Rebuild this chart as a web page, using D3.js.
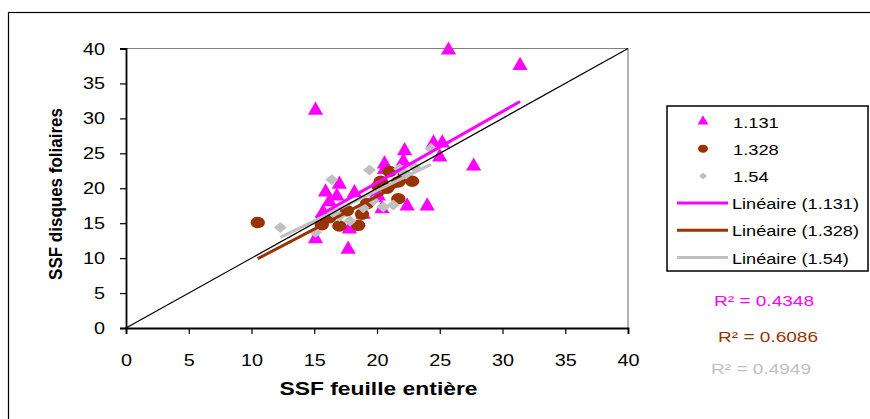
<!DOCTYPE html>
<html><head><meta charset="utf-8">
<script src="https://cdn.jsdelivr.net/npm/d3@7"></script>
<style>body{margin:0;background:#fff}svg{display:block;font-family:"Liberation Sans",Arial,sans-serif}</style>
</head><body><svg id="c" width="870" height="419"></svg>
<script>
// ---- data ----
const seriesNames = ["1.131", "1.328", "1.54"];
const seriesColors = ["#FF00FF", "#993300", "#C0C0C0"];
const s1131 = [[25.7,39.9],[31.4,37.7],[15.1,31.3],[24.5,26.6],[25.2,26.6],[22.2,25.5],[25.0,24.6],[20.6,23.6],[22.1,24.0],[27.7,23.3],[20.6,22.8],[17.0,20.7],[15.9,19.6],[16.8,19.0],[18.2,19.5],[16.2,18.2],[22.4,17.6],[24.0,17.6],[15.7,16.7],[20.4,17.2],[19.8,18.8],[18.9,16.4],[17.8,14.3],[15.1,12.9],[17.7,11.4],[20.1,19.0]];
const s1328 = [[10.5,15.1],[15.6,14.8],[17.0,14.6],[18.5,14.7],[18.8,16.3],[17.6,16.8],[21.0,22.4],[21.7,20.9],[22.8,21.0],[20.8,20.0],[20.1,20.3],[21.7,18.5],[16.2,15.8],[19.2,17.8],[22.2,21.8],[20.3,21.0]];
const s154 = [[12.3,14.4],[15.1,13.7],[16.4,21.2],[19.4,22.6],[24.3,25.7],[21.8,22.8],[20.5,17.3],[21.3,17.6],[17.85,15.3],[18.9,17.2],[19.7,18.2],[16.5,16.5],[22.3,22.0],[23.0,23.0],[17.0,16.0]];
const trendSlopes = [1.02, 0.94, 0.87];
const trendIntercepts = [0.39, 0.05, 2.27];
const r2Labels = ["R² = 0.4348", "R² = 0.6086", "R² = 0.4949"];
const xTicks = [0,5,10,15,20,25,30,35,40];
const yTicks = [0,5,10,15,20,25,30,35,40];
const diagonal = [[0,0],[40,40]];
const xTitle = "SSF feuille entière";
const yTitle = "SSF disques foliaires";

const SX = 1.24; // horizontal glyph stretch seen in the reference
const allSeries = [s1131, s1328, s154];
const svg = d3.select("#c");
function stext(parent, x, y, txt, size, sx, anchor){
  return parent.append("text").attr("transform",`translate(${x},${y}) scale(${sx},1)`)
    .attr("text-anchor",anchor||"start").attr("font-size",size).text(txt);
}
// outer frame
svg.append("rect").attr("x",8.5).attr("y",12.5).attr("width",900).attr("height",500)
  .attr("fill","none").attr("stroke","#000").attr("stroke-width",1.2);

const x = d3.scaleLinear().domain([0,40]).range([126,628]);
const y = d3.scaleLinear().domain([0,40]).range([328,48.5]);

// plot border (top/right gray)
svg.append("path").attr("d",`M${x(0)},${y(40)}H${x(40)}V${y(0)}`).attr("fill","none").attr("stroke","#808080").attr("stroke-width",1.2);

const xa = svg.append("g").attr("transform",`translate(0,${y(0)})`)
  .call(d3.axisBottom(x).tickValues(xTicks).tickSize(6).tickFormat(d3.format("d")));
const ya = svg.append("g").attr("transform",`translate(${x(0)},0)`)
  .call(d3.axisLeft(y).tickValues(yTicks).tickSize(6).tickFormat(d3.format("d")));
[xa,ya].forEach(a=>{
  a.select(".domain").attr("stroke","#000").attr("stroke-width",1.8);
  a.selectAll(".tick line").attr("stroke","#000").attr("stroke-width",1.2);
  a.selectAll(".tick text").attr("font-size",16).attr("fill","#000").attr("font-family","Liberation Sans, Arial, sans-serif");
});
xa.selectAll(".tick text").attr("y",null).attr("dy",null).attr("transform",`translate(0,38) scale(${SX},1)`);
ya.selectAll(".tick text").attr("x",null).attr("dy",null).attr("transform",`translate(-21,5.5) scale(${SX},1)`);

// markers
const tri = d3.symbol().type(d3.symbolTriangle).size(100);
svg.append("g").selectAll("path").data(s1131).join("path")
  .attr("d",tri).attr("transform",d=>`translate(${x(d[0])},${y(d[1])+1})`).attr("fill",seriesColors[0]);
svg.append("g").selectAll("ellipse").data(s1328).join("ellipse")
  .attr("cx",d=>x(d[0])).attr("cy",d=>y(d[1])).attr("rx",7.2).attr("ry",5.8).attr("fill",seriesColors[1]);
svg.append("g").selectAll("path").data(s154).join("path")
  .attr("d","M0,-5.5L6.5,0L0,5.5L-6.5,0Z").attr("transform",d=>`translate(${x(d[0])},${y(d[1])})`).attr("fill",seriesColors[2]);

// trend lines
allSeries.forEach((s,i)=>{
  const [x0,x1] = d3.extent(s,d=>d[0]);
  const pts = [x0,x1].map(v=>[v, trendSlopes[i]*v+trendIntercepts[i]]);
  svg.append("path").attr("d",d3.line().x(d=>x(d[0])).y(d=>y(d[1]))(pts))
    .attr("stroke",seriesColors[i]).attr("stroke-width",3).attr("fill","none");
});
// diagonal
svg.append("path").attr("d",d3.line().x(d=>x(d[0])).y(d=>y(d[1]))(diagonal))
  .attr("stroke","#000").attr("stroke-width",1.3).attr("fill","none");

// axis titles
stext(svg, 378.5, 395, xTitle, 18, 1.27, "middle").attr("font-weight","bold");
svg.append("text").attr("transform","translate(62,194) rotate(-90) scale(1,1.1)").attr("text-anchor","middle")
  .attr("font-size",17).attr("font-weight","bold").text(yTitle);

// legend
const lg = svg.append("g");
lg.append("rect").attr("x",667).attr("y",106).attr("width",201).attr("height",165)
  .attr("fill","#fff").attr("stroke","#000").attr("stroke-width",1.5);
const rowY = d => 121.5 + d*27.2;
seriesNames.forEach((n,i)=>{
  const cy = rowY(i);
  if(i===0) lg.append("path").attr("d",d3.symbol().type(d3.symbolTriangle).size(50)).attr("transform",`translate(703,${cy})`).attr("fill",seriesColors[0]);
  if(i===1) lg.append("ellipse").attr("cx",703).attr("cy",cy).attr("rx",5).attr("ry",4).attr("fill",seriesColors[1]);
  if(i===2) lg.append("path").attr("d","M0,-3.5L4,0L0,3.5L-4,0Z").attr("transform",`translate(703,${cy})`).attr("fill",seriesColors[2]);
  stext(lg, 733, cy+6, n, 15.5, 1.18);
});
seriesNames.forEach((n,i)=>{
  const cy = rowY(i+3);
  lg.append("line").attr("x1",677).attr("x2",728).attr("y1",cy).attr("y2",cy).attr("stroke",seriesColors[i]).attr("stroke-width",3);
  stext(lg, 732, cy+6, `Linéaire (${n})`, 15.5, 1.17);
});
// R² labels
const r2Pos = [[764,300],[768,336],[761,368]];
r2Labels.forEach((t,i)=>{
  stext(svg, r2Pos[i][0], r2Pos[i][1]+5.5, t, 15, 1.27, "middle").attr("fill",seriesColors[i]);
});
</script></body></html>
